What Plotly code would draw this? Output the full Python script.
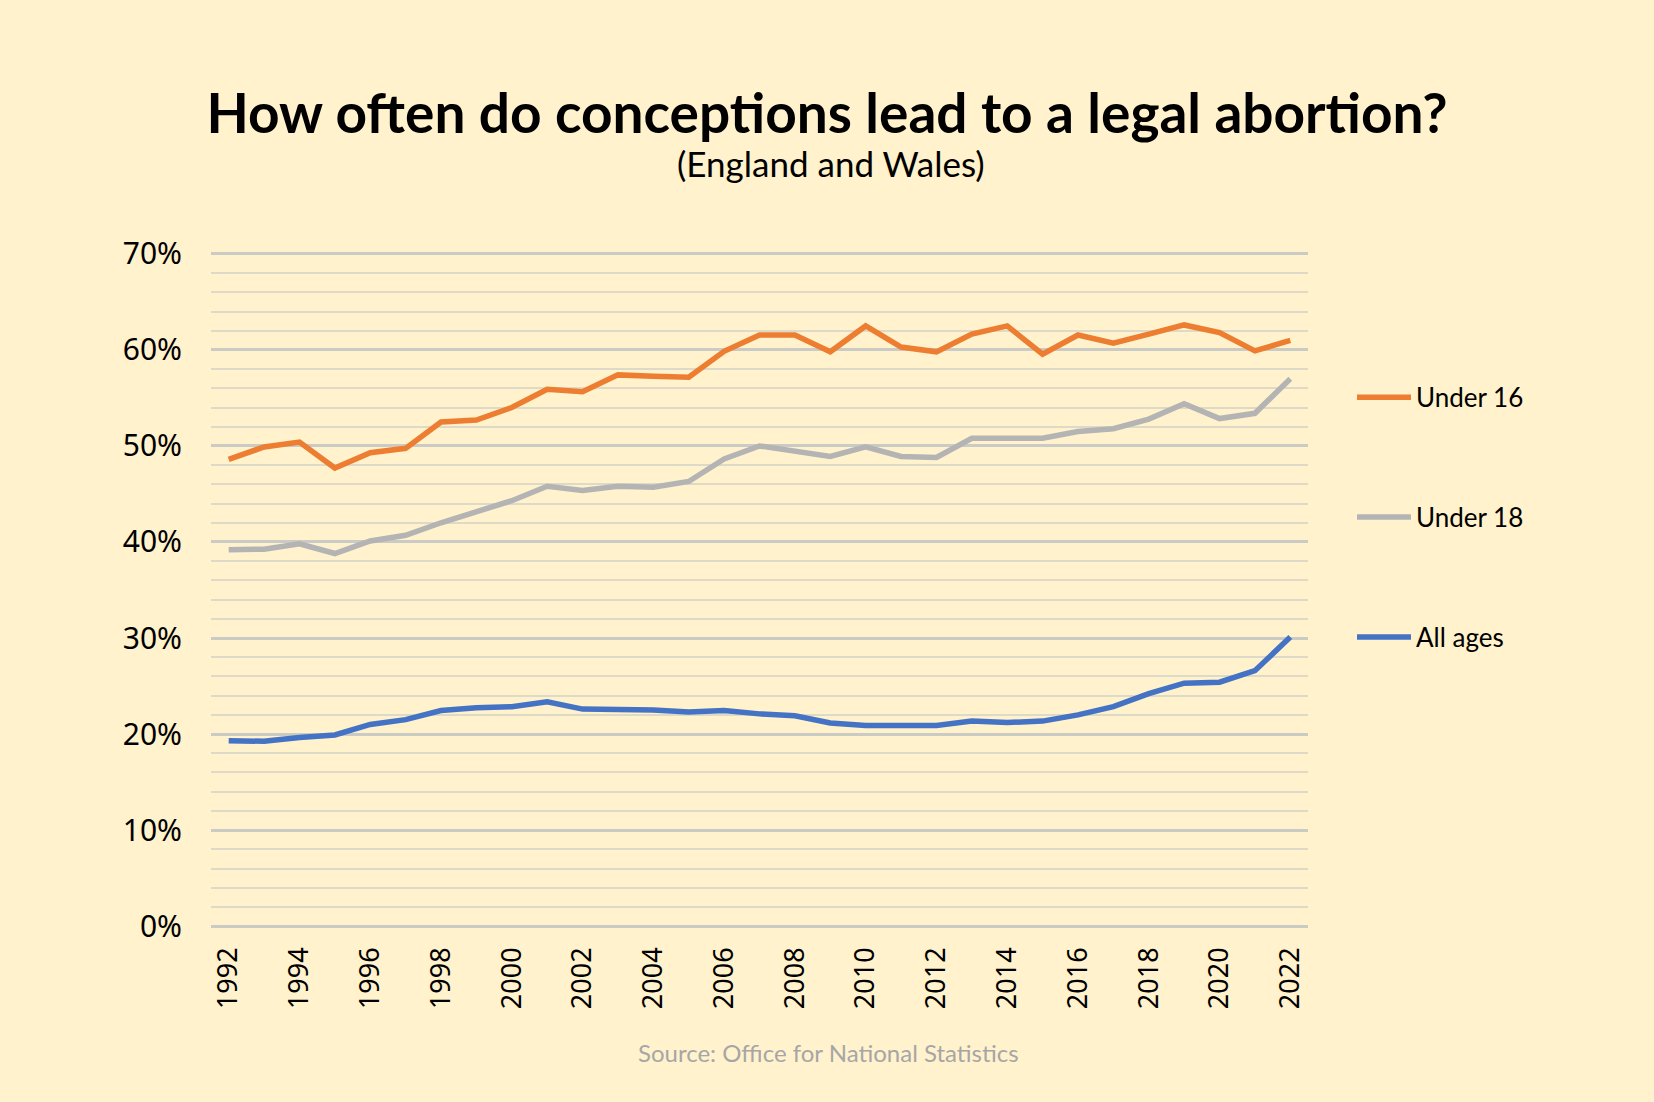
import plotly.graph_objects as go

years = list(range(1992, 2023))

under_16 = [48.6, 49.9, 50.4, 47.7, 49.3, 49.75, 52.5, 52.7, 54.0, 55.9,
            55.65, 57.4, 57.25, 57.15, 59.85, 61.55, 61.55, 59.8, 62.5, 60.3,
            59.8, 61.65, 62.5, 59.55, 61.55, 60.7, 61.65, 62.6, 61.8, 59.9,
            61.0]
under_18 = [39.2, 39.25, 39.8, 38.8, 40.1, 40.7, 42.0, 43.1, 44.3, 45.8,
            45.35, 45.8, 45.7, 46.3, 48.65, 50.0, 49.5, 48.9, 49.9, 48.9,
            48.8, 50.8, 50.8, 50.8, 51.5, 51.8, 52.8, 54.4, 52.85, 53.4,
            57.0]
all_ages = [19.3, 19.25, 19.65, 19.9, 21.0, 21.5, 22.45, 22.75, 22.85, 23.35,
            22.6, 22.6, 22.5, 22.3, 22.45, 22.1, 21.9, 21.15, 20.9, 20.9,
            20.9, 21.35, 21.2, 21.35, 22.0, 22.85, 24.2, 25.3, 25.4, 26.6,
            30.1]

series = [
    ("Under 16", under_16, "#ED7D31", 1),
    ("Under 18", under_18, "#B4B4B4", 2),
    ("All ages", all_ages, "#4472C4", 3),
]

bg = "#FFF2CC"

# plot area: 0% at y=926, 70% at y=254 (page px); pad range by 0.3% so edge gridlines show
pad = 0.3
px_per_pct = 672 / 70
top = 254 - pad * px_per_pct
bottom = 926 + pad * px_per_pct
plot_h = bottom - top

fig = go.Figure()
for name, vals, col, rank in series:
    fig.add_trace(go.Scatter(
        x=years, y=vals, name=name, mode="lines",
        line=dict(color=col, width=5.5),
        legendgroup=name, legendrank=rank,
    ))

fig.update_layout(
    width=1654, height=1102,
    paper_bgcolor=bg, plot_bgcolor=bg,
    margin=dict(l=211, r=346, t=top, b=1102 - bottom),
    title=dict(
        text="<b>How often do conceptions lead to a legal abortion?</b>",
        x=0.5, xanchor="center", y=1 - 114 / 1102, yanchor="middle",
        font=dict(family="Lato", size=55, color="#000000"),
    ),
    legend=dict(
        x=1 + 44 / 1097, xanchor="left", y=1 - (397 - top) / plot_h + 0.034, yanchor="top",
        font=dict(family="Lato", size=26, color="#000000"),
        tracegroupgap=83, itemwidth=54, bgcolor="rgba(0,0,0,0)",
    ),
    showlegend=True,
)

fig.add_annotation(
    text="(England and Wales)", xref="paper", yref="paper",
    x=(831 - 211) / 1097, y=1 + (top - 163) / plot_h, xanchor="center", yanchor="middle",
    showarrow=False, font=dict(family="Lato", size=35, color="#000000"),
)
fig.add_annotation(
    text="Source: Office for National Statistics", xref="paper", yref="paper",
    x=(828 - 211) / 1097, y=-(1052 - bottom) / plot_h, xanchor="center", yanchor="middle",
    showarrow=False, font=dict(family="Lato", size=24, color="#A6A6A6"),
)

fig.update_xaxes(
    range=[1991.5, 2022.5], tickvals=years[::2], ticktext=[str(y) for y in years[::2]],
    tickangle=-90, showgrid=False, zeroline=False, showline=False, ticks="",
    tickfont=dict(family="Noto Sans", size=27, color="#000000"),
    ticklabelstandoff=12,
)
fig.update_yaxes(
    range=[-pad, 70 + pad], tickvals=[0, 10, 20, 30, 40, 50, 60, 70],
    ticktext=["0%", "10%", "20%", "30%", "40%", "50%", "60%", "70%"],
    showline=False, zeroline=False,
    gridcolor="#CBCBC6", gridwidth=2.5, ticks="",
    minor=dict(tickvals=[v for v in range(2, 70, 2) if v % 10], showgrid=True,
               gridcolor="#DEDAC8", gridwidth=1.5),
    tickfont=dict(family="Noto Sans", size=30, color="#000000"),
    ticklabelstandoff=28,
)

fig.write_html("out.html", config={"displayModeBar": False},
               post_script="document.body.style.margin='0';")
